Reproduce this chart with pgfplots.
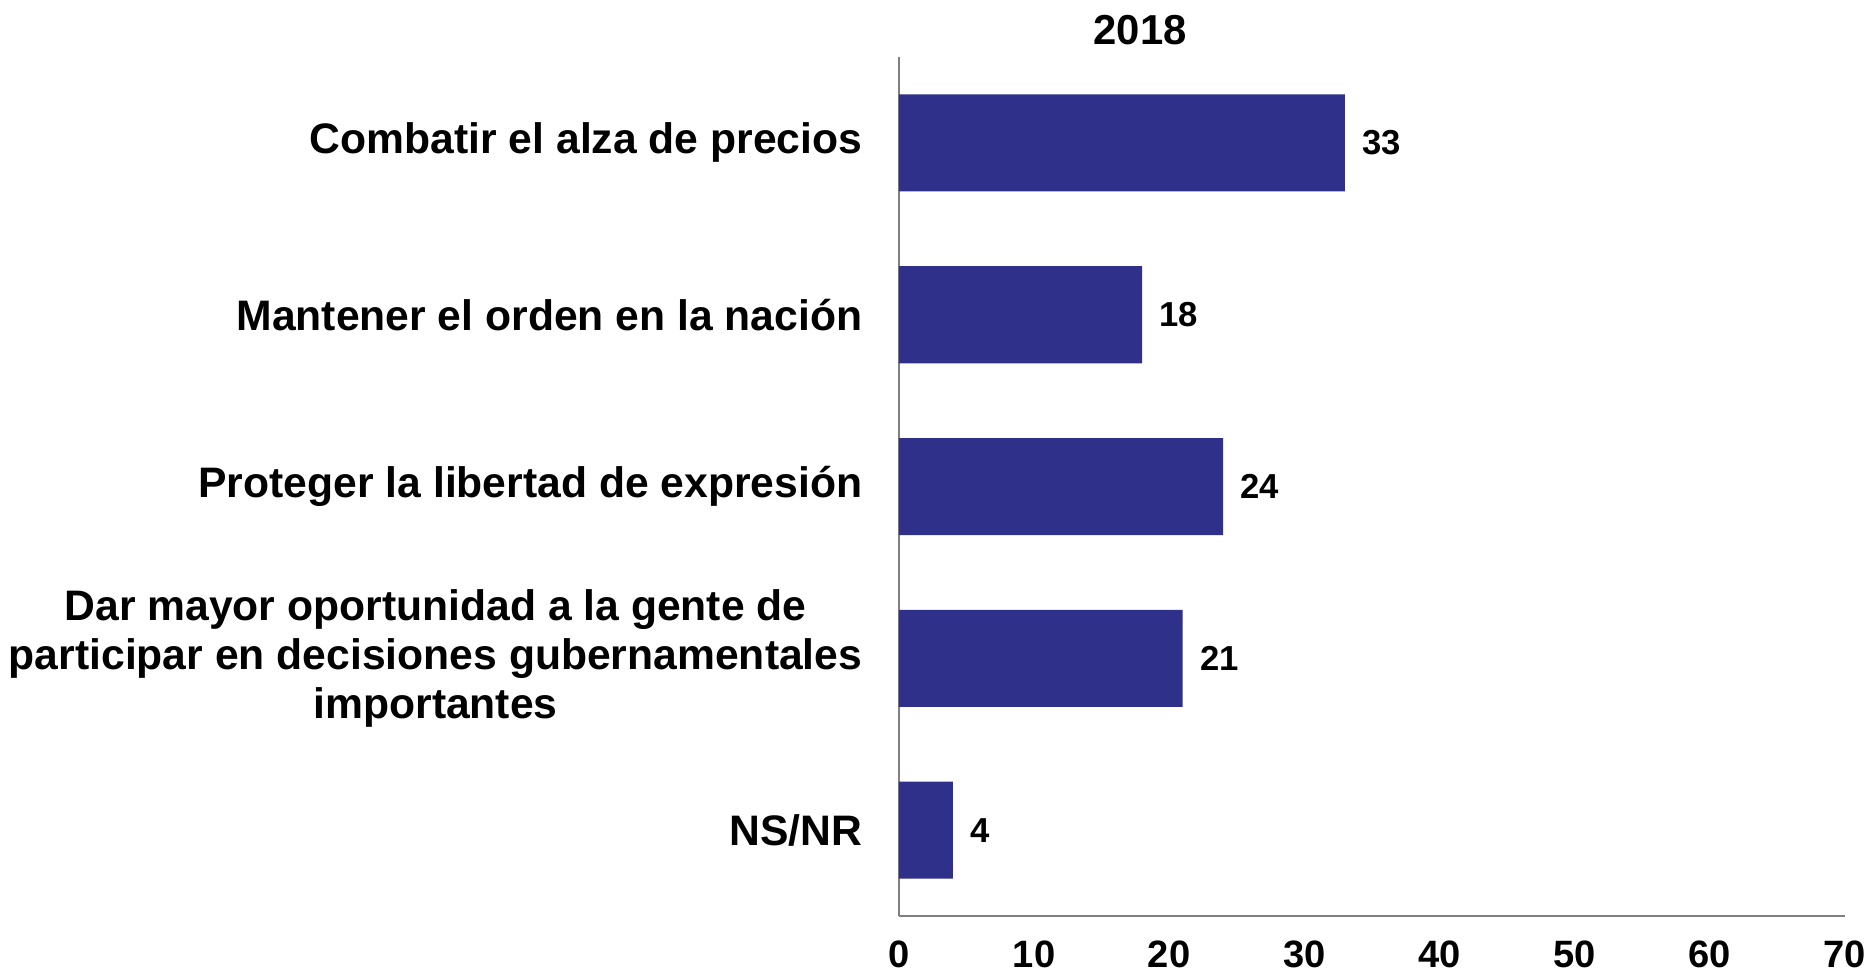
\documentclass[border=0pt]{standalone}
\usepackage{fontspec}
\setmainfont{Liberation Sans}
\usepackage{pgfplots}
\pgfplotsset{compat=1.18}
\definecolor{barblue}{HTML}{2E3089}
\definecolor{axgray}{HTML}{808080}

\begin{document}
\begin{tikzpicture}
\begin{axis}[
    name=ax,
    scale only axis,
    width=354.8pt, height=322.2pt,
    xbar, bar width=0.565,
    xmin=0, xmax=70,
    ymin=-0.5, ymax=4.5,
    y dir=reverse,
    xtick={0,10,...,70},
    ytick=data,
    yticklabels={
      Combatir el alza de precios,
      Mantener el orden en la nación,
      Proteger la libertad de expresión,
      {Dar mayor oportunidad a la gente de\\participar en decisiones gubernamentales\\importantes},
      NS/NR},
    axis lines=left,
    axis line style={draw=axgray, line width=0.8pt, -},
    major tick length=0pt,
    /pgf/number format/assume math mode=true,
    xticklabel style={font=\bfseries\fontsize{14.3}{16}\selectfont, inner sep=0pt, yshift=-9.3pt},
    yticklabel style={font=\bfseries\fontsize{16}{18.3}\selectfont, align=center, xshift=-10.2pt},
    title={2018},
    title style={at={(0.255,1)}, anchor=south, inner sep=0pt, font=\bfseries\fontsize{15.7}{18}\selectfont, yshift=-1.5pt},
    nodes near coords,
    nodes near coords style={font=\bfseries\fontsize{13}{15}\selectfont, anchor=west, xshift=3pt},
    clip=false,
]
\addplot[fill=barblue, draw=none] coordinates {(33,0) (18,1) (24,2) (21,3) (4,4)};
\end{axis}
\path (ax.south west) ++(-336.5pt,-21pt) rectangle ([xshift=7pt,yshift=21.4pt]ax.north east);
\end{tikzpicture}
\end{document}
